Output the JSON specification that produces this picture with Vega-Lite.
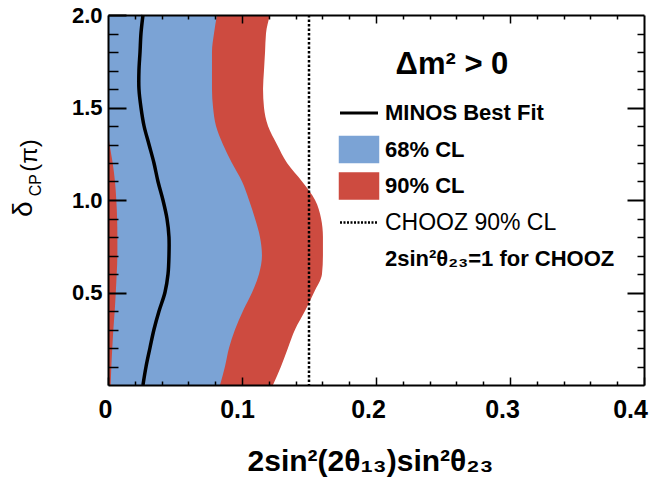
{
  "$schema": "https://vega.github.io/schema/vega-lite/v6.json",
  "width": 536,
  "height": 370,
  "autosize": {"type": "none"},
  "padding": {"left": 108, "top": 15, "right": 5, "bottom": 100},
  "background": "white",
  "datasets": {
    "contours": [
      {"delta": 0.0, "cl90_hi": 0.1231, "cl68_lo": 0.0020, "cl68_hi": 0.0836, "best": 0.0261},
      {"delta": 0.1, "cl90_hi": 0.1291, "cl68_lo": 0.0025, "cl68_hi": 0.0873, "best": 0.0284},
      {"delta": 0.2, "cl90_hi": 0.1343, "cl68_lo": 0.0032, "cl68_hi": 0.0903, "best": 0.0313},
      {"delta": 0.3, "cl90_hi": 0.1396, "cl68_lo": 0.0040, "cl68_hi": 0.0948, "best": 0.0343},
      {"delta": 0.4, "cl90_hi": 0.1470, "cl68_lo": 0.0050, "cl68_hi": 0.1007, "best": 0.0381},
      {"delta": 0.5, "cl90_hi": 0.1537, "cl68_lo": 0.0058, "cl68_hi": 0.1075, "best": 0.0425},
      {"delta": 0.6, "cl90_hi": 0.1597, "cl68_lo": 0.0065, "cl68_hi": 0.1127, "best": 0.0448},
      {"delta": 0.7, "cl90_hi": 0.1604, "cl68_lo": 0.0070, "cl68_hi": 0.1149, "best": 0.0455},
      {"delta": 0.8, "cl90_hi": 0.1604, "cl68_lo": 0.0070, "cl68_hi": 0.1134, "best": 0.0455},
      {"delta": 0.9, "cl90_hi": 0.1590, "cl68_lo": 0.0068, "cl68_hi": 0.1097, "best": 0.0440},
      {"delta": 1.0, "cl90_hi": 0.1545, "cl68_lo": 0.0062, "cl68_hi": 0.1052, "best": 0.0410},
      {"delta": 1.1, "cl90_hi": 0.1448, "cl68_lo": 0.0052, "cl68_hi": 0.1000, "best": 0.0373},
      {"delta": 1.2, "cl90_hi": 0.1336, "cl68_lo": 0.0035, "cl68_hi": 0.0925, "best": 0.0343},
      {"delta": 1.3, "cl90_hi": 0.1261, "cl68_lo": 0.0012, "cl68_hi": 0.0858, "best": 0.0306},
      {"delta": 1.4, "cl90_hi": 0.1194, "cl68_lo": 0.0, "cl68_hi": 0.0806, "best": 0.0269},
      {"delta": 1.5, "cl90_hi": 0.1164, "cl68_lo": 0.0, "cl68_hi": 0.0784, "best": 0.0246},
      {"delta": 1.6, "cl90_hi": 0.1157, "cl68_lo": 0.0, "cl68_hi": 0.0776, "best": 0.0231},
      {"delta": 1.7, "cl90_hi": 0.1164, "cl68_lo": 0.0, "cl68_hi": 0.0776, "best": 0.0231},
      {"delta": 1.8, "cl90_hi": 0.1172, "cl68_lo": 0.0, "cl68_hi": 0.0776, "best": 0.0239},
      {"delta": 1.9, "cl90_hi": 0.1179, "cl68_lo": 0.0, "cl68_hi": 0.0791, "best": 0.0246},
      {"delta": 2.0, "cl90_hi": 0.1209, "cl68_lo": 0.0, "cl68_hi": 0.0813, "best": 0.0261}
    ],
    "chooz": [{"limit": 0.15}]
  },
  "data": {"name": "contours"},
  "resolve": {"axis": {"x": "independent", "y": "independent"}},
  "config": {
    "view": {"stroke": null},
    "axis": {
      "grid": false,
      "domain": false,
      "tickColor": "black",
      "tickWidth": 1.5,
      "labelColor": "black",
      "labelFont": "Liberation Sans",
      "labelFontWeight": "bold",
      "labelFlush": false,
      "labelOverlap": false,
      "domainColor": "black",
      "domainWidth": 2,
      "title": null
    }
  },
  "layer": [
    {
      "mark": {"type": "area", "orient": "horizontal", "color": "#cd4b40", "interpolate": "monotone"},
      "encoding": {
        "y": {
          "field": "delta", "type": "quantitative",
          "scale": {"domain": [0, 2], "nice": false, "zero": false},
          "axis": {"orient": "left", "zindex": 1, "values": [0.5, 1, 1.5, 2], "format": ".1f", "tickSize": -18, "tickWidth": 2, "labelFontSize": 22, "labelPadding": 24, "labelDy": 3, "domain": true}
        },
        "x": {
          "field": "cl90_hi", "type": "quantitative", "stack": null,
          "scale": {"domain": [0, 0.4], "nice": false, "zero": false},
          "axis": {
            "orient": "bottom", "zindex": 1, "values": [0, 0.1, 0.2, 0.3, 0.4],
            "labelExpr": "datum.value === 0 ? '0' : format(datum.value, '.1f')",
            "tickSize": -8, "labelFontSize": 25, "labelPadding": 20, "domain": true,
            "labelOffset": {
              "condition": [
                {"test": "datum.value === 0", "value": -3},
                {"test": "datum.value === 0.1", "value": -5},
                {"test": "datum.value === 0.4", "value": -14}
              ],
              "value": -8
            },
            "title": "2sin²(2θ₁₃)sin²θ₂₃",
            "titleFont": "Liberation Sans", "titleFontSize": 30, "titleFontWeight": "bold", "titleColor": "black",
            "titleX": 262, "titleY": 85, "titleBaseline": "alphabetic", "titleAlign": "center"
          }
        },
        "color": {
          "datum": "90% CL",
          "scale": {
            "domain": ["MINOS Best Fit", "68% CL", "90% CL", "CHOOZ 90% CL", "2sin²θ₂₃=1 for CHOOZ"],
            "range": ["black", "#7ba3d5", "#cd4b40", "black", "transparent"]
          },
          "legend": {
            "orient": "none", "legendX": 240, "legendY": 87, "title": null, "padding": 0,
            "gridAlign": "all",
            "symbolSize": 400, "rowPadding": 0.5, "labelOffset": 15,
            "labelFontSize": 22, "labelFont": "Liberation Sans", "labelColor": "black", "labelLimit": 400,
            "encode": {
              "symbols": {
                "update": {
                  "shape": {"signal": "datum.value === '68% CL' || datum.value === '90% CL' ? 'M-1.9,-1.25H1.9V1.25H-1.9Z' : 'M-1.9,0H1.9'"},
                  "size": {"value": 400},
                  "fill": {"signal": "datum.value === '68% CL' ? '#7ba3d5' : datum.value === '90% CL' ? '#cd4b40' : 'transparent'"},
                  "stroke": {"signal": "datum.value === 'MINOS Best Fit' || datum.value === 'CHOOZ 90% CL' ? 'black' : 'transparent'"},
                  "strokeWidth": {"signal": "datum.value === 'MINOS Best Fit' ? 3 : 2.5"},
                  "strokeDash": {"signal": "datum.value === 'CHOOZ 90% CL' ? [2, 1.5] : []"},
                  "opacity": {"value": 1},
                  "fillOpacity": {"value": 1},
                  "strokeOpacity": {"value": 1}
                }
              },
              "labels": {
                "update": {
                  "fontWeight": {"signal": "datum.value === 'CHOOZ 90% CL' ? 'normal' : 'bold'"},
                  "fontSize": {"signal": "datum.value === 'CHOOZ 90% CL' ? 23 : 22"}
                }
              }
            }
          }
        }
      }
    },
    {
      "mark": {"type": "area", "orient": "horizontal", "color": "#7ba3d5", "interpolate": "monotone"},
      "encoding": {
        "y": {
          "field": "delta", "type": "quantitative",
          "axis": {"orient": "left", "zindex": 1, "values": [0.1, 0.2, 0.3, 0.4, 0.6, 0.7, 0.8, 0.9, 1.1, 1.2, 1.3, 1.4, 1.6, 1.7, 1.8, 1.9], "tickSize": -10, "labels": false}
        },
        "x": {
          "field": "cl68_lo", "type": "quantitative", "stack": null,
          "axis": {"orient": "bottom", "zindex": 1, "values": [0.02, 0.04, 0.06, 0.08, 0.12, 0.14, 0.16, 0.18, 0.22, 0.24, 0.26, 0.28, 0.32, 0.34, 0.36, 0.38], "tickSize": -4, "labels": false}
        },
        "x2": {"field": "cl68_hi"},
        "color": {"datum": "68% CL"}
      }
    },
    {
      "mark": {"type": "line", "color": "black", "strokeWidth": 3.5, "interpolate": "catmull-rom"},
      "encoding": {
        "y": {
          "field": "delta", "type": "quantitative",
          "axis": {"orient": "right", "zindex": 1, "values": [0.5, 1, 1.5], "tickSize": -17, "tickWidth": 2, "labels": false, "domain": true}
        },
        "x": {
          "field": "best", "type": "quantitative",
          "axis": {"orient": "top", "zindex": 1, "values": [0.1, 0.2, 0.3], "tickSize": -8, "labels": false, "domain": true}
        },
        "order": {"field": "delta", "type": "quantitative"},
        "color": {"datum": "MINOS Best Fit"}
      }
    },
    {
      "data": {"name": "chooz"},
      "mark": {"type": "rule", "color": "black", "strokeWidth": 2.5, "strokeDash": [2.5, 2]},
      "encoding": {
        "x": {"field": "limit", "type": "quantitative", "axis": null},
        "color": {"datum": "CHOOZ 90% CL"}
      }
    },
    {
      "data": {"values": [{}]},
      "mark": {"type": "text", "text": "Δm² > 0", "font": "Liberation Sans", "fontSize": 31, "fontWeight": "bold", "color": "black", "align": "center", "baseline": "middle"},
      "encoding": {
        "x": {
          "datum": 0.2567, "type": "quantitative",
          "axis": {"orient": "top", "zindex": 1, "values": [0.02, 0.04, 0.06, 0.08, 0.12, 0.14, 0.16, 0.18, 0.22, 0.24, 0.26, 0.28, 0.32, 0.34, 0.36, 0.38], "tickSize": -4, "labels": false}
        },
        "y": {
          "datum": 1.73, "type": "quantitative",
          "axis": {"orient": "right", "zindex": 1, "values": [0.1, 0.2, 0.3, 0.4, 0.6, 0.7, 0.8, 0.9, 1.1, 1.2, 1.3, 1.4, 1.6, 1.7, 1.8, 1.9], "tickSize": -7, "labels": false}
        }
      }
    },
    {
      "data": {"values": [{}]},
      "mark": {"type": "text", "text": "δ", "font": "Liberation Sans", "fontSize": 28, "color": "black", "angle": 270, "align": "center", "baseline": "middle"},
      "encoding": {
        "x": {"datum": -0.0625, "type": "quantitative", "axis": null},
        "y": {"datum": 0.95, "type": "quantitative", "axis": null}
      }
    },
    {
      "data": {"values": [{}]},
      "mark": {"type": "text", "text": "CP", "font": "Liberation Sans", "fontSize": 16, "color": "black", "angle": 270, "align": "center", "baseline": "middle"},
      "encoding": {
        "x": {"datum": -0.0535, "type": "quantitative", "axis": null},
        "y": {"datum": 1.08, "type": "quantitative", "axis": null}
      }
    },
    {
      "data": {"values": [{}]},
      "mark": {"type": "text", "text": "(π)", "font": "Liberation Sans", "fontSize": 24, "color": "black", "angle": 270, "align": "center", "baseline": "middle"},
      "encoding": {
        "x": {"datum": -0.0585, "type": "quantitative", "axis": null},
        "y": {"datum": 1.24, "type": "quantitative", "axis": null}
      }
    }
  ]
}
